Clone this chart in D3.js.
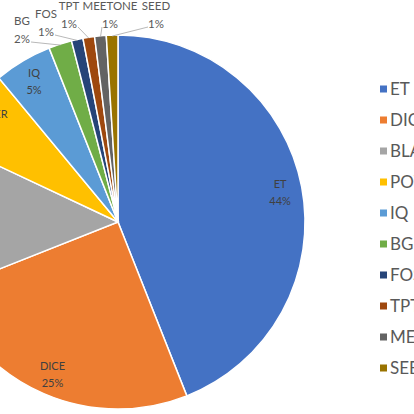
<!DOCTYPE html>
<html lang="en">
<head>
<meta charset="UTF-8">
<script src="https://d3js.org/d3.v7.min.js"></script>
<style>
  body { margin: 0; background: #fff; overflow: hidden; }
  text { font-family: Lato, "Open Sans", sans-serif; }
</style>
</head>
<body>
<div id="chart"></div>
<script>
// tokens and their share (percent)
const names = ["ET", "DICE", "BLACK", "POWER", "IQ", "BG", "FOS", "TPT", "MEETONE", "SEED"]
const shares = [44, 25, 13, 7, 5, 2, 1, 1, 1, 1]
const colors = ["#4472C4", "#ED7D31", "#A5A5A5", "#FFC000", "#5B9BD5",
                "#70AD47", "#264478", "#9E480E", "#636363", "#997300"]

const width = 414
const height = 414
const cx = 118, cy = 222
const radius = 187

// small slices get their label outside, with a leader line
const outside = {
    BG:      [22, 21],
    FOS:     [46, 14],
    TPT:     [69, 6],
    MEETONE: [110, 6],
    SEED:    [156, 6]
}

const data = names.map((n, i) => ({ name: n, value: shares[i] }))

const svg = d3.select("#chart")
    .append("svg")
    .attr("width", width)
    .attr("height", height)

const color = d3.scaleOrdinal().domain(names).range(colors)

const pie = d3.pie().sort(null).value(d => d.value)
const arcs = pie(data)

const arc = d3.arc().innerRadius(0).outerRadius(radius)
const labelArc = d3.arc().innerRadius(165).outerRadius(165)
const edgeArc = d3.arc().innerRadius(radius - 1).outerRadius(radius - 1)

const g = svg.append("g").attr("transform", `translate(${cx},${cy})`)

g.selectAll("path")
    .data(arcs)
    .join("path")
      .attr("d", arc)
      .attr("fill", d => color(d.data.name))
      .attr("stroke", "#fff")
      .attr("stroke-width", 1.5)

// inside labels
const inner = arcs.filter(d => !outside[d.data.name])
const innerText = g.selectAll("text.inner")
    .data(inner)
    .join("text")
      .attr("class", "inner")
      .attr("text-anchor", "middle")
      .attr("font-size", 11)
      .attr("fill", "#404040")
      .attr("transform", d => `translate(${labelArc.centroid(d)})`)
innerText.append("tspan").attr("x", 0).attr("dy", "-0.3em").text(d => d.data.name)
innerText.append("tspan").attr("x", 0).attr("dy", "1.55em").text(d => d.data.value + "%")

// outside labels with leader lines
const outer = arcs.filter(d => outside[d.data.name])
const edgePt = d => [cx + edgeArc.centroid(d)[0], cy + edgeArc.centroid(d)[1]]
svg.selectAll("line.leader")
    .data(outer)
    .join("line")
      .attr("class", "leader")
      .attr("x1", d => {
          const [lx] = outside[d.data.name]
          return lx < edgePt(d)[0] ? lx + 9 : lx - 8
      })
      .attr("y1", d => outside[d.data.name][1] + 21)
      .attr("x2", d => edgePt(d)[0])
      .attr("y2", d => edgePt(d)[1])
      .attr("stroke", "#A6A6A6")
      .attr("stroke-width", 0.8)

const outerText = svg.selectAll("text.outer")
    .data(outer)
    .join("text")
      .attr("class", "outer")
      .attr("text-anchor", "middle")
      .attr("font-size", 11.5)
      .attr("fill", "#595959")
      .attr("transform", d => `translate(${outside[d.data.name]})`)
outerText.append("tspan").attr("x", 0).attr("dy", "0.35em").text(d => d.data.name)
outerText.append("tspan").attr("x", 0).attr("dy", "1.55em").text(d => d.data.value + "%")

// legend
const legend = svg.append("g").attr("transform", "translate(380,89)")
const item = legend.selectAll("g")
    .data(names)
    .join("g")
      .attr("transform", (d, i) => `translate(0,${i * 31})`)
item.append("rect")
    .attr("x", 0).attr("y", -3.5)
    .attr("width", 7).attr("height", 7)
    .attr("fill", d => color(d))
item.append("text")
    .attr("x", 10)
    .attr("dy", "0.36em")
    .attr("font-size", 17)
    .attr("fill", "#595959")
    .text(d => d)
</script>
</body>
</html>
